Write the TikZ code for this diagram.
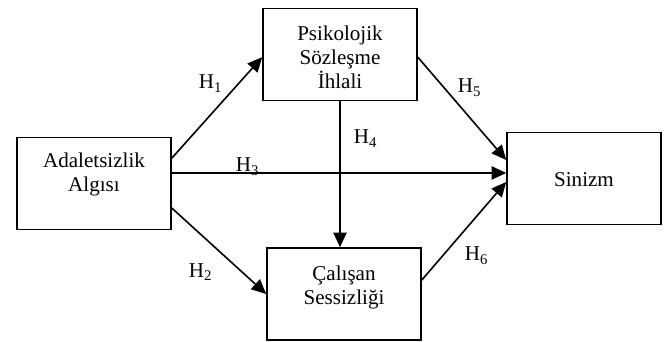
\documentclass[tikz,border=0pt]{standalone}
\usepackage{fontspec}
\setmainfont{Liberation Serif}
\usetikzlibrary{arrows.meta,positioning}

\begin{document}
\begin{tikzpicture}[x=0.75pt,y=-0.75pt,line width=1.2pt,
    font=\fontsize{15.8}{18}\selectfont,
    >={Triangle[length=11pt,width=10pt]},
    box/.style={draw, minimum width=115.5pt, minimum height=69pt, inner sep=0pt},
    txt/.style={anchor=north, align=center, inner sep=0pt},
    lbl/.style={anchor=base west, inner sep=0pt}]
    \useasboundingbox (0,0) rectangle (668,342);

    \node[box] (adalet) at (94,183.5) {};
    \node[box] (psiko) at (340,54.5) {};
    \node[box] (calisan) at (344,294) {};
    \node[box] (sinizm) at (584,178.5) {};

    % texts sit near the top of the boxes
    \node[txt] (tadalet) at (94,152.5) {Adaletsizlik\\Algısı};
    \node[txt] (tpsiko) at (340,25) {Psikolojik\\Sözleşme\\İhlali};
    \node[txt] (tcalisan) at (344,265) {Çalışan\\Sessizliği};
    \node[txt] (tsinizm) at (584,172) {Sinizm};

    \draw[->] ([yshift=19pt]adalet.east) -- ([yshift=-2pt]psiko.west);
    \draw[->] ([yshift=-18.4pt]adalet.east) -- (calisan.west);
    \draw[->] ([yshift=7.9pt]adalet.east) coordinate (a3) -- (a3 -| sinizm.west);
    \draw[->] (psiko.south) -- (psiko.south |- calisan.north);
    \draw[->] ([yshift=-2pt]psiko.east) -- ([yshift=13.9pt]sinizm.west);
    \draw[->] ([yshift=10.5pt]calisan.east) -- ([yshift=-2.6pt]sinizm.west);

    \foreach \n/\x/\y in {1/198/89, 2/188/277, 3/235/172, 4/353/144, 5/457/93, 6/464/261}
        \node[lbl] (h\n) at (\x,\y) {H\textsubscript{\n}};
\end{tikzpicture}
\end{document}
